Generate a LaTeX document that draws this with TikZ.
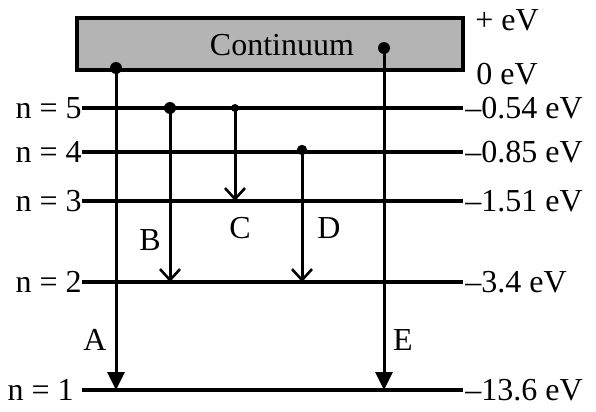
\documentclass[tikz,border=0pt]{standalone}
\usepackage{fontspec}
\setmainfont{Liberation Serif}
\usetikzlibrary{arrows.meta}
\usetikzlibrary{positioning}

\definecolor{boxgray}{RGB}{180,180,180}

\tikzset{
	level/.style = {line width=1.6pt},
	emit/.style = {line width=1.5pt, -{Straight Barb[length=5.5pt,width=10pt,line width=1.3pt]}},
	ionize/.style = {line width=1.5pt, -{Triangle[length=9pt,width=8.5pt]}},
	lbl/.style = {inner sep=0pt, font=\fontsize{16}{19}\selectfont},
}

\begin{document}
\begin{tikzpicture}[x=0.5pt,y=-0.5pt]
	\useasboundingbox (0,0) rectangle (596,412);

	%Continuum
	\draw[level, fill=boxgray] (77,18) rectangle (463,70);
	\node[lbl] (cont) at (282,45) {Continuum};
	\node[lbl, anchor=west] (plus) at (475,20) {+ eV};
	\node[lbl, anchor=west] (zero) at (476,74) {0 eV};

	%Levels
	\foreach \n/\y/\e in {5/108/0.54, 4/152/0.85, 3/201/1.51, 2/282/3.4, 1/390/13.6}{
		\coordinate (L\n) at (82,\y);
		\coordinate (R\n) at (463,\y);
		\draw[level] (L\n) -- (R\n);
		\node[lbl, anchor=west] (E\n) at (465,\y) {--\e{} eV};
	}
	\node[lbl, anchor=east] (n5) at (L5) {n = 5};
	\node[lbl, anchor=east] (n4) at (L4) {n = 4};
	\node[lbl, anchor=east] (n3) at (L3) {n = 3};
	\node[lbl, anchor=east] (n2) at (L2) {n = 2};
	\node[lbl, anchor=east] (n1) at ([xshift=-4]L1) {n = 1};

	%Start points
	\coordinate (sA) at (116,68);
	\coordinate (sB) at (170,108);
	\coordinate (sC) at (235,108);
	\coordinate (sD) at (302,150);
	\coordinate (sE) at (384,48);

	%End points
	\coordinate (eA) at (116,390);
	\coordinate (eB) at (170,282);
	\coordinate (eC) at (235,201);
	\coordinate (eD) at (302,282);
	\coordinate (eE) at (384,390);

	%Transitions
	\draw[ionize] (sA) -- (eA);
	\draw[emit] (sB) -- (eB);
	\draw[emit] (sC) -- (eC);
	\draw[emit] (sD) -- (eD);
	\draw[ionize] (sE) -- (eE);

	\fill (sA) circle (3pt);
	\fill (sB) circle (3pt);
	\fill (sC) circle (2pt);
	\fill (sD) circle (2.6pt);
	\fill (sE) circle (3pt);

	\node[lbl] (A) at (95,340) {A};
	\node[lbl] (B) at (150,240) {B};
	\node[lbl] (C) at (240,228) {C};
	\node[lbl] (D) at (329,228) {D};
	\node[lbl] (E) at (403,340) {E};
\end{tikzpicture}
\end{document}
